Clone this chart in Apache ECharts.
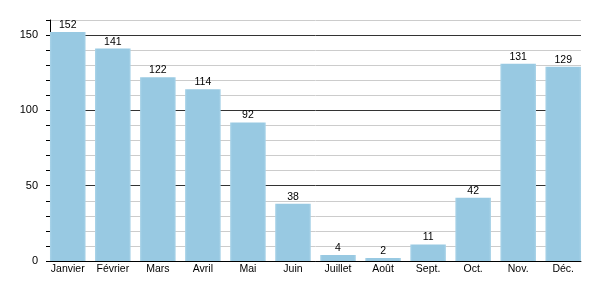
<!DOCTYPE html>
<html><head><meta charset="utf-8">
<script src="https://cdn.jsdelivr.net/npm/echarts@6/dist/echarts.min.js"></script>
<style>html,body{margin:0;padding:0;background:#fff}#c{width:600px;height:300px}</style>
</head><body><div id="c"></div>
<script>
const categories = ['Janvier','Février','Mars','Avril','Mai','Juin','Juillet','Août','Sept.','Oct.','Nov.','Déc.'];
const values = [152,141,122,114,92,38,4,2,11,42,131,129];
const yTickLabels = [0,50,100,150];

const chart = echarts.init(document.getElementById('c'), null, {renderer:'canvas'});
const font = 'Liberation Sans, Arial, sans-serif';
const gridLineColors = [];
for (let v = 0; v <= 160; v += 10) gridLineColors.push(v % 50 === 0 ? '#333333' : '#cccccc');

chart.setOption({
  animation: false,
  grid: [
    {left: 50, right: 19, top: 20, bottom: 39},
    {left: 45.25, right: 14.25, top: 20, bottom: 39}
  ],
  xAxis: [
    {gridIndex: 0, type: 'category', data: categories,
     axisLine: {show: true, lineStyle: {color: '#000', width: 1}},
     axisTick: {show: false}, axisLabel: {show: false}, splitLine: {show: false}},
    {gridIndex: 1, type: 'category', data: categories,
     axisLine: {show: false}, axisTick: {show: false},
     axisLabel: {color: '#000', fontSize: 10.5, fontFamily: font, margin: 3, interval: 0}}
  ],
  yAxis: [
    {gridIndex: 0, type: 'value', min: 0, max: 160, interval: 10,
     axisLine: {show: true, lineStyle: {color: '#000', width: 1}},
     axisTick: {show: true, length: 4, lineStyle: {color: '#000'}},
     axisLabel: {color: '#000', fontSize: 11, fontFamily: font, margin: 12,
       formatter: v => yTickLabels.indexOf(v) >= 0 ? String(v) : ''},
     splitLine: {show: true, lineStyle: {color: gridLineColors, width: 1}}},
    {gridIndex: 1, type: 'value', min: 0, max: 160, show: false, splitLine: {show: false}}
  ],
  series: [{
    type: 'bar', xAxisIndex: 1, yAxisIndex: 1, data: values,
    barCategoryGap: '21%',
    itemStyle: {color: {type: 'linear', x: 0, y: 0, x2: 1, y2: 0, colorStops: [
      {offset: 0, color: '#a9d3e8'}, {offset: 0.06, color: '#98c9e2'},
      {offset: 0.94, color: '#98c9e2'}, {offset: 1, color: '#a9d3e8'}]}},
    label: {show: true, position: 'top', distance: 1.5, color: '#000', fontSize: 10.5, fontFamily: font}
  }]
});
</script></body></html>
